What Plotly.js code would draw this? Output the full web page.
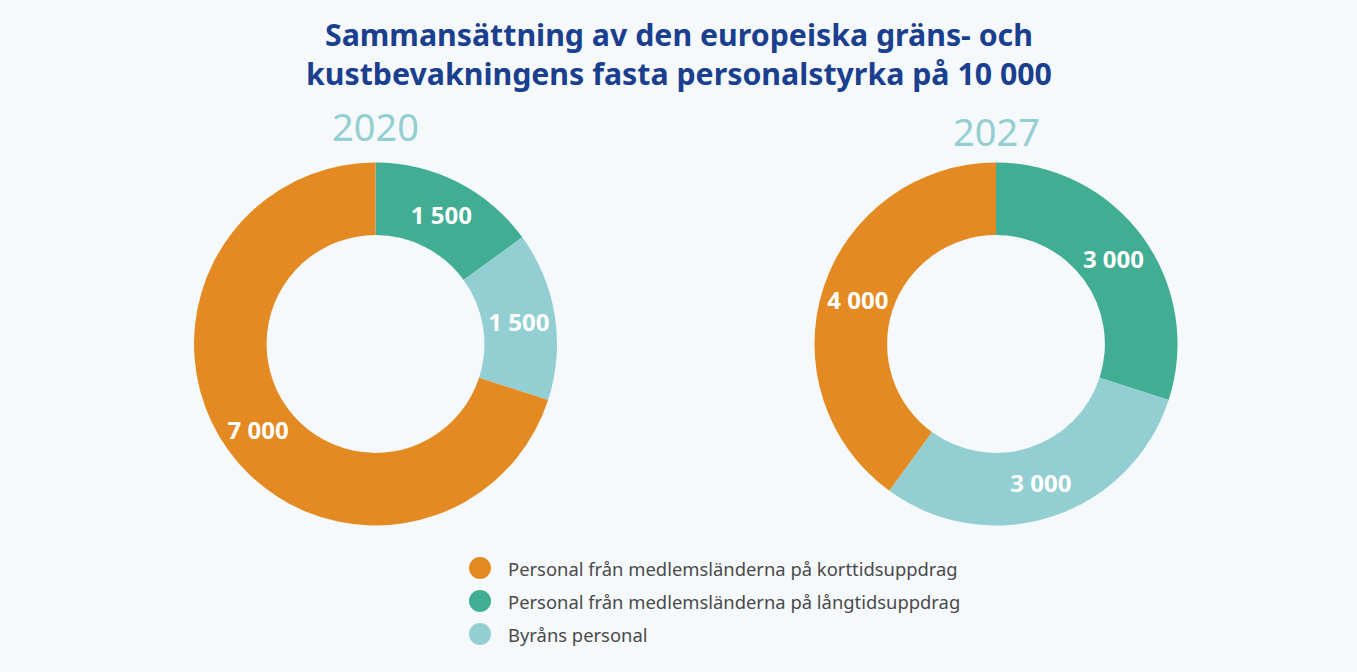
<!DOCTYPE html>
<html>
<head>
<meta charset="utf-8">
<script src="https://cdn.plot.ly/plotly-3.0.1.min.js"></script>
<style>html,body{margin:0;padding:0;background:#f5f9fc;}#chart{width:1357px;height:672px;}</style>
</head>
<body>
<div id="chart"></div>
<script>
// Data
const categories = ["Personal från medlemsländerna på korttidsuppdrag", "Personal från medlemsländerna på långtidsuppdrag", "Byråns personal"];
const colors = ["#e38b22", "#41ae93", "#93cfd2"];
const years = ["2020", "2027"];
const values2020 = [7000, 1500, 1500];
const values2027 = [4000, 3000, 3000];
const titleText = "Sammansättning av den europeiska gräns- och<br>kustbevakningens fasta personalstyrka på 10 000";

// slice order in picture (clockwise from 12 o'clock): long-term, agency, short-term
const sliceOrder = [1, 2, 0];
function fmt(v){ return String(v).replace(/\B(?=(\d{3})+(?!\d))/g, " "); }

function pieTrace(vals, domain){
  return {
    type: "pie",
    labels: sliceOrder.map(i => categories[i]),
    values: sliceOrder.map(i => vals[i]),
    text: sliceOrder.map(i => fmt(vals[i])),
    marker: {colors: sliceOrder.map(i => colors[i]), line: {width: 0}},
    hole: 0.6,
    sort: false,
    direction: "clockwise",
    rotation: 0,
    textinfo: "text",
    textposition: "inside",
    insidetextorientation: "horizontal",
    textfont: {family: "'Noto Sans', sans-serif", size: 24, color: "#ffffff", weight: "bold"},
    showlegend: false,
    hoverinfo: "label+value",
    domain: domain
  };
}

const W = 1357, H = 672;
const R = 181.5;
function dom(cx, cy){
  return {x: [(cx - R)/W, (cx + R)/W], y: [(H - cy - R)/H, (H - cy + R)/H]};
}

const data = [
  pieTrace(values2020, dom(375.5, 344)),
  pieTrace(values2027, dom(996, 344))
];

// legend built from categories/colors
const legendX = 480, legendY0 = 568, legendDy = 33;
const shapes = categories.map((c, i) => ({
  type: "circle", xref: "paper", yref: "paper",
  xsizemode: "pixel", ysizemode: "pixel",
  xanchor: legendX / W, yanchor: 1 - (legendY0 + i*legendDy)/H,
  x0: -11, x1: 11, y0: -11, y1: 11,
  fillcolor: colors[i], line: {width: 0}
}));
const annotations = categories.map((c, i) => ({
  text: c, xref: "paper", yref: "paper",
  x: (legendX + 26)/W, y: 1 - (legendY0 + i*legendDy)/H,
  xanchor: "left", yanchor: "middle", showarrow: false,
  font: {family: "'Noto Sans', sans-serif", size: 18.4, color: "#4a4a4a"}
}));
// year labels
const yearPos = [[375.5, 126], [996, 131]];
years.forEach((y, i) => annotations.push({
  text: y, xref: "paper", yref: "paper",
  x: yearPos[i][0]/W, y: 1 - yearPos[i][1]/H,
  xanchor: "center", yanchor: "middle", showarrow: false,
  font: {family: "'Noto Sans', sans-serif", size: 38, color: "#93cfd2"}
}));
// title
annotations.push({
  text: titleText, xref: "paper", yref: "paper",
  x: 0.5, y: 1 - 54/H, xanchor: "center", yanchor: "middle", showarrow: false,
  font: {family: "'Noto Sans', sans-serif", size: 30.3, color: "#1b3f8f", weight: "bold"}
});

const layout = {
  width: W, height: H,
  paper_bgcolor: "#f5f9fc",
  plot_bgcolor: "#f5f9fc",
  margin: {l: 0, r: 0, t: 0, b: 0},
  shapes: shapes,
  annotations: annotations,
  showlegend: false
};

Plotly.newPlot("chart", data, layout, {displayModeBar: false, staticPlot: true});
</script>
</body>
</html>
